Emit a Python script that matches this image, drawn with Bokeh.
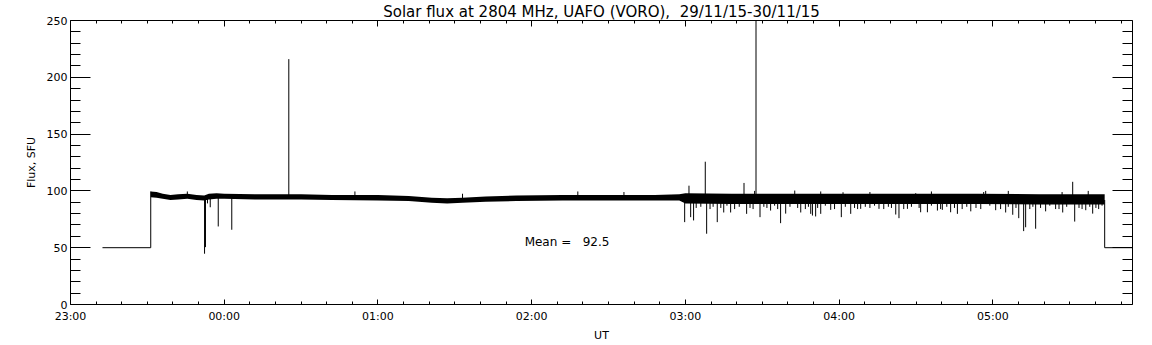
import numpy as np
from bokeh.plotting import figure
from bokeh.models import LinearAxis, FixedTicker, Range1d, Label
from bokeh.embed import file_html
from bokeh.resources import INLINE

# ---------------- data (time in hours after 23:00 UT, 29/11/15) ----------------
x_tick_hours = [0, 1, 2, 3, 4, 5, 6]
x_tick_labels = ["23:00", "00:00", "01:00", "02:00", "03:00", "04:00", "05:00"]
x_minor_step_min = 10
y_ticks = [0, 50, 100, 150, 200, 250]
y_minor_step = 10

# level before the receiver starts / after it stops
pre_t = [0.208, 0.522, 0.522]
pre_v = [50, 50, 99.5]
post_t = [6.727, 6.727, 6.95]
post_v = [92, 50, 50]

# envelope of the noisy flux record
band_t = [0.522, 0.560, 0.600, 0.650, 0.700, 0.760, 0.820, 0.870, 0.900, 0.950,
          1.000, 1.200, 1.500, 1.700, 2.000, 2.200, 2.350, 2.450, 2.550, 2.700, 2.900,
          3.200, 3.500, 3.800, 3.960, 4.000, 4.300, 4.700, 5.100, 5.500, 5.900, 6.300, 6.727]
band_lo = [94.5, 94, 93, 92, 92.5, 93, 92, 91.5, 92.5, 93,
           93, 92.5, 92.5, 92, 91.5, 91, 89.5, 89, 89.5, 90.5, 91,
           91.5, 91.5, 91.5, 91.5, 89, 88.5, 88.5, 88.5, 88.5, 88.5, 88, 88]
band_hi = [99.5, 99, 97.5, 96.5, 97, 97.5, 96.5, 96, 97.5, 98,
           97.5, 97, 97, 96.5, 96.5, 95.5, 94, 93.5, 94, 95, 96,
           96.5, 96.5, 96.5, 97, 98, 97.5, 97.5, 97.5, 97.5, 97.5, 97, 97]

# individual spikes read from the record
spike_t = [0.872, 0.878, 0.891, 0.909, 0.961, 1.049, 1.420, 0.760, 1.850, 2.550, 3.300, 3.600,
           3.995, 4.023, 4.034, 4.053, 4.129, 4.138, 4.207, 4.249, 4.294, 4.381, 4.398, 4.459,
           4.485, 4.554, 4.619, 4.652, 4.711, 4.750, 4.815, 4.826, 4.847, 4.880, 4.945, 5.014,
           5.025, 5.075, 5.140, 5.259, 5.368, 5.389, 5.444, 5.498, 5.530, 5.574, 5.639, 5.671,
           5.725, 5.769, 5.856, 5.921, 5.953, 6.018, 6.083, 6.129, 6.168, 6.200, 6.213, 6.278,
           6.343, 6.408, 6.454, 6.519, 6.532, 6.604, 6.649, 6.688,
           4.07, 4.10, 4.16, 4.18, 4.23, 4.27, 4.32, 4.35, 4.42, 4.44, 4.51, 4.53, 4.58, 4.60,
           4.68, 4.73, 4.78, 4.80, 4.86, 4.91, 4.97, 5.04, 5.10, 5.12, 5.17, 5.20, 5.23, 5.29,
           5.32, 5.34, 5.42, 5.47, 5.52, 5.60, 5.66, 5.70, 5.75, 5.80, 5.83, 5.89, 5.98, 6.05,
           6.10, 6.15, 6.24, 6.26, 6.31, 6.37, 6.43, 6.48, 6.56, 6.58, 6.63, 6.67, 6.71,
           4.45, 4.88, 5.20, 5.60, 5.94, 6.10, 6.45, 6.62]
spike_v = [44.7, 50.5, 89, 85.6, 68.7, 65.8, 216, 99.5, 99.5, 97.5, 99.5, 99,
           72.5, 104.6, 76.9, 74, 125.7, 62.3, 72.5, 81, 81, 107, 79.8, 260,
           76.9, 82.7, 71.6, 80, 100.3, 81, 79.8, 78.3, 77.5, 79.8, 83.3, 76.9,
           98.8, 79.8, 84.2, 84.2, 79.2, 76, 84.2, 98, 81.2, 81.2, 82.7, 83.3,
           81.2, 79.8, 82, 84, 100, 83, 81, 79, 76, 64.6, 68, 66.7,
           82, 84, 81, 108, 73, 83, 80, 84,
           85, 86, 84, 86, 85, 87, 84, 86, 85, 84, 86, 85, 87, 84,
           86, 85, 84, 86, 85, 87, 84, 86, 85, 84, 86, 85, 87, 84,
           86, 85, 84, 86, 85, 87, 84, 86, 85, 84, 86, 85, 87, 84,
           86, 85, 84, 86, 85, 87, 84, 86, 85, 84, 86, 85, 87,
           100, 99.5, 99, 99.5, 99, 100, 99, 100]

mean_text = "Mean =\u00a0\u00a0\u00a092.5"
title_text = "Solar flux at 2804 MHz, UAFO (VORO),\u00a0\u00a029/11/15-30/11/15"

# ---------------- figure ----------------
x_end = 6.908
FONT = "DejaVu Sans"
p = figure(width=1152, height=345, x_range=Range1d(0, x_end), y_range=Range1d(0, 250),
           x_axis_type=None, y_axis_type=None, output_backend="svg", toolbar_location=None,
           min_border_left=70, min_border_right=20, min_border_top=19, min_border_bottom=41,
           title=title_text)
p.title.align = "center"
p.title.text_font = FONT
p.title.text_font_size = "15px"
p.title.text_font_style = "normal"
p.title.text_color = "black"
p.title.standoff = 0
p.title.offset = 0
p.outline_line_color = None
p.background_fill_color = "white"
p.border_fill_color = "white"

x_minor = [k * x_minor_step_min / 60 for k in range(0, int(x_end * 60 / x_minor_step_min) + 1)
           if k % 6 != 0]
y_minor = [v for v in range(0, 251, y_minor_step) if v % 50 != 0]


def make_axis(ticks, minor, tin, mtin, labels=None, standoff=3):
    ax = LinearAxis(ticker=FixedTicker(ticks=ticks, minor_ticks=minor))
    ax.major_tick_in = tin
    ax.major_tick_out = 0
    ax.minor_tick_in = mtin
    ax.minor_tick_out = 0
    ax.axis_line_color = "black"
    ax.major_tick_line_color = "black"
    ax.minor_tick_line_color = "black"
    ax.major_label_text_font = FONT
    ax.major_label_text_color = "black"
    ax.axis_label_text_color = "black"
    ax.major_label_standoff = standoff
    if labels is None:
        ax.major_label_overrides = {t: "" for t in ticks}
        ax.major_label_text_font_size = "1px"
        ax.major_label_standoff = 0
    else:
        ax.major_label_overrides = labels
        ax.major_label_text_font_size = "11px"
    return ax


bottom = make_axis(x_tick_hours, x_minor, 5, 3,
                   labels={t: l for t, l in zip(x_tick_hours, x_tick_labels)}, standoff=5)
bottom.axis_label = "UT"
bottom.axis_label_text_font = FONT
bottom.axis_label_text_font_size = "11px"
bottom.axis_label_text_font_style = "normal"
bottom.axis_label_standoff = 3
top = make_axis(x_tick_hours, x_minor, 6, 3)
left = make_axis(y_ticks, y_minor, 20, 10, labels={t: str(t) for t in y_ticks}, standoff=3)
left.axis_label = "Flux, SFU"
left.axis_label_text_font = FONT
left.axis_label_text_font_size = "11px"
left.axis_label_text_font_style = "normal"
left.axis_label_standoff = 6
right = make_axis(y_ticks, y_minor, 20, 10)

p.add_layout(bottom, "below")
p.add_layout(top, "above")
p.add_layout(left, "left")
p.add_layout(right, "right")

# ---------------- data glyphs ----------------
p.line(pre_t, pre_v, line_color="black", line_width=1)
p.line(post_t, post_v, line_color="black", line_width=1)
p.varea(x=band_t, y1=band_lo, y2=band_hi, fill_color="black")
bt = np.array(band_t)
mid = (np.array(band_lo) + np.array(band_hi)) / 2
spike_base = np.interp(spike_t, bt, mid)
p.segment(x0=spike_t, y0=spike_base, x1=spike_t, y1=spike_v, line_color="black", line_width=1)

p.add_layout(Label(x=2.954, y=54.9, text=mean_text, text_font=FONT, text_font_size="12px",
                   text_color="black", text_align="left", text_baseline="middle"))

open("out.html", "w").write(file_html(p, INLINE))
